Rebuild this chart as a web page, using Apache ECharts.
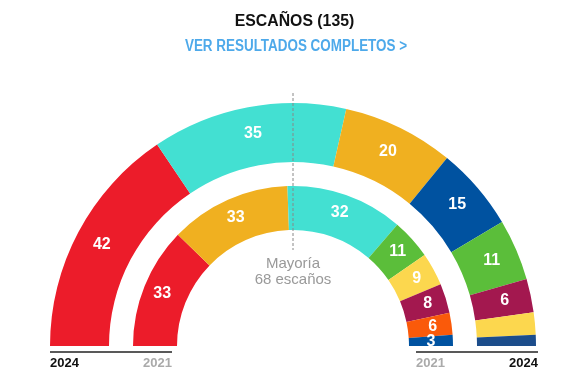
<!DOCTYPE html>
<html><head><meta charset="utf-8">
<script src="https://cdn.jsdelivr.net/npm/echarts@6/dist/echarts.min.js"></script>
<style>html,body{margin:0;padding:0;background:#fff}#c{width:585px;height:390px}</style>
</head><body><div id="c"></div>
<script>
const parties2024 = ['PSC','Junts','ERC','PP','Vox','Comuns','CUP','Aliança Catalana'];
const seats2024   = [42, 35, 20, 15, 11, 6, 4, 2];
const colors2024  = ['#EC1C2A','#43E0D2','#F0B020','#0052A0','#5BBE3A','#A3184F','#FCD74E','#1C4D8B'];
const parties2021 = ['PSC','ERC','Junts','Vox','CUP','Comuns','Cs','PP'];
const seats2021   = [33, 33, 32, 11, 9, 8, 6, 3];
const colors2021  = ['#EC1C2A','#F0B020','#43E0D2','#5BBE3A','#FCD74E','#A3184F','#FA5A0A','#0052A0'];
const hideLabelBelow = 5;

const chart = echarts.init(document.getElementById('c'));
const cx = 293, cy = 346;
const labelFont = 'Liberation Sans, Arial, sans-serif';
function ring(names, vals, cols, r0, r1, minLabel){
  return {
    type:'pie', center:[cx,cy], radius:[r0,r1], startAngle:180, endAngle:0,
    clockwise:true, silent:true, animation:false, avoidLabelOverlap:false,
    label:{show:true, position:'inside', color:'#fff', fontWeight:'bold', fontSize:16,
      fontFamily:labelFont,
      formatter:p=> p.value>=minLabel ? String(p.value) : ''},
    labelLine:{show:false},
    itemStyle:{borderWidth:0},
    data: names.map((n,i)=>({name:n, value:vals[i], itemStyle:{color:cols[i]}}))
  };
}
// label for the tiny last segment of the inner ring (too narrow for the pie's own inside label)
const total2021 = seats2021.reduce((a,b)=>a+b,0);
const lastIdx = seats2021.length-1;
const before = seats2021.slice(0,lastIdx).reduce((a,b)=>a+b,0);
const midFrac = (before + seats2021[lastIdx]/2)/total2021;
const ang = Math.PI*(1-midFrac);
const rMid = (116+160)/2;
const smallLabel = {type:'text', x:cx + rMid*Math.cos(ang), y:cy - rMid*Math.sin(ang), z:20,
  style:{text:String(seats2021[lastIdx]), fill:'#fff', align:'center', verticalAlign:'middle', font:'bold 16px '+labelFont}};

chart.setOption({
  animation:false,
  series:[
    ring(parties2024, seats2024, colors2024, 184, 243, hideLabelBelow),
    ring(parties2021, seats2021, colors2021, 116, 160, 0)
  ],
  graphic:[
    {type:'text', x:294.5, y:21, scaleX:0.93, style:{text:'ESCAÑOS (135)', fill:'#111', align:'center', verticalAlign:'middle', font:'bold 17px "Liberation Sans", Arial, sans-serif'}},
    {type:'text', x:296, y:47, scaleX:0.84, style:{text:'VER RESULTADOS COMPLETOS >', fill:'#4DA9EA', align:'center', verticalAlign:'middle', font:'bold 16px "Liberation Sans", Arial, sans-serif'}},
    {type:'line', shape:{x1:cx, y1:93, x2:cx, y2:250}, style:{stroke:'#888', lineWidth:1, lineDash:[3,2]}, z:10},
    {type:'text', x:cx, y:256, style:{text:'Mayoría\n68 escaños', fill:'#999', align:'center', font:'15px "Liberation Sans", Arial, sans-serif', lineHeight:16}},
    {type:'line', shape:{x1:50, y1:352, x2:172, y2:352}, style:{stroke:'#222', lineWidth:1.5}},
    {type:'line', shape:{x1:416, y1:352, x2:538, y2:352}, style:{stroke:'#222', lineWidth:1.5}},
    {type:'text', x:50, y:357, style:{text:'2024', fill:'#111', align:'left', font:'bold 13px "Liberation Sans", Arial, sans-serif'}},
    {type:'text', x:172, y:357, style:{text:'2021', fill:'#aaa', align:'right', font:'bold 13px "Liberation Sans", Arial, sans-serif'}},
    {type:'text', x:416, y:357, style:{text:'2021', fill:'#aaa', align:'left', font:'bold 13px "Liberation Sans", Arial, sans-serif'}},
    {type:'text', x:538, y:357, style:{text:'2024', fill:'#111', align:'right', font:'bold 13px "Liberation Sans", Arial, sans-serif'}},
    smallLabel
  ]
});
</script></body></html>
